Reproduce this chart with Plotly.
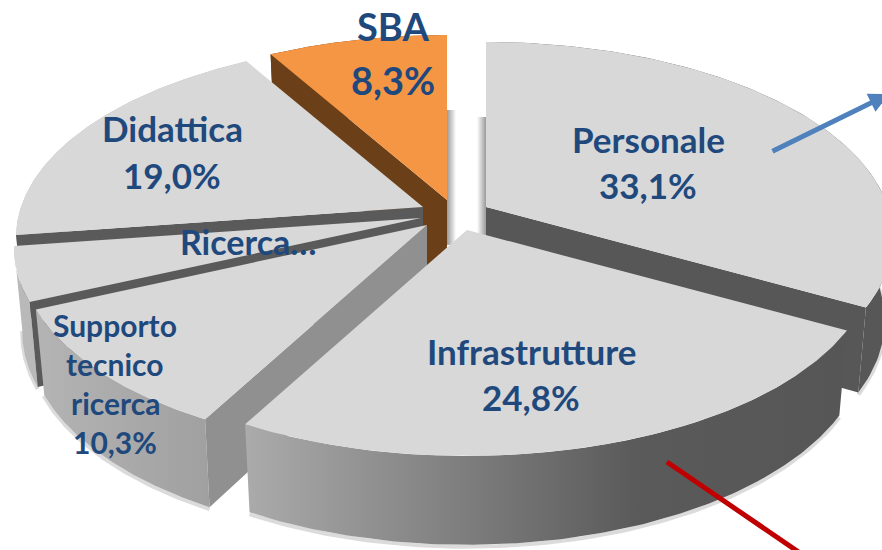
import numpy as np
import plotly.graph_objects as go

categories = ["Personale", "Infrastrutture", "Supporto tecnico ricerca", "Ricerca", "Didattica", "SBA"]
shares = [33.1, 24.8, 10.3, 4.5, 19.0, 8.3]
label_lines = [["Personale", "33,1%"], ["Infrastrutture", "24,8%"],
               ["Supporto", "tecnico", "ricerca", "10,3%"], ["Ricerca…"],
               ["Didattica", "19,0%"], ["SBA", "8,3%"]]

# layout of the exploded 3D pie (pixel-like axis units)
apex = {"Personale": (486, 207), "Infrastrutture": (467, 230), "Supporto tecnico ricerca": (427, 225),
        "Ricerca": (421, 218), "Didattica": (423, 207), "SBA": (447, 200)}
RX, RY, PERSP = 402.0, 190.7, 0.156
DEPTH, DEPTH_Y, SHRINK = 82.0, 0.05, 0.98
draw_order = ["SBA", "Personale", "Didattica", "Ricerca", "Supporto tecnico ricerca", "Infrastrutture"]
# which radial edge shows its wall: "start", "end" or None
visible_face = {"SBA": "start", "Personale": "end", "Didattica": "start", "Ricerca": "start",
                "Supporto tecnico ricerca": "start", "Infrastrutture": None}
styles = {
    "Personale": dict(top="#D8D8D8", side="#575757", face="#575757"),
    "Infrastrutture": dict(top="#D8D8D8", grad=[[0, "#ABABAB"], [0.65, "#5A5A5A"], [1, "#565656"]], face=None),
    "Supporto tecnico ricerca": dict(top="#D8D8D8", grad=[[0, "#B4B4B4"], [1, "#A0A0A0"]], face="#909090"),
    "Ricerca": dict(top="#D8D8D8", side="#B9B9B9", face="#5A5A5A"),
    "Didattica": dict(top="#D8D8D8", side="#BDBDBD", face="#5A5A5A"),
    "SBA": dict(top="#F59645", side="#6B3F17", face="#6B3F17"),
}
# x, first y, line step, font size
label_pos = {"Personale": (648, 139, 46, 35), "Infrastrutture": (531, 351, 46, 35),
             "Supporto tecnico ricerca": (115, 325, 39, 30), "Ricerca": (248, 241, 0, 34),
             "Didattica": (172, 128, 47, 35), "SBA": (393, 26, 54, 38)}
TEXT = "#1F497D"
FONT = "Lato"

cum = np.cumsum([0] + shares) / sum(shares) * 2 * np.pi
ranges = {c: (cum[i], cum[i + 1]) for i, c in enumerate(categories)}


def rim(th):
    c = -np.cos(th)
    den = 1 - PERSP * c
    return RX * np.sin(th) / den, RY * c / den


def top_pt(name, th):
    X, Y = rim(th)
    ax, ay = apex[name]
    return ax + X, ay + Y


def bot_pt(name, th):
    X, Y = rim(th)
    ax, ay = apex[name]
    return ax + X * SHRINK, ay + Y * SHRINK + DEPTH + DEPTH_Y * Y


def poly(xs, ys, color=None, grad=None, name=""):
    kw = dict(x=list(xs), y=list(ys), mode="lines", fill="toself", line=dict(width=0),
              hoverinfo="skip", showlegend=False, name=name)
    if grad is not None:
        kw["fillgradient"] = dict(type="horizontal", colorscale=grad)
    else:
        kw["fillcolor"] = color
    return go.Scatter(**kw)


fig = go.Figure()

# faint shadow strips beside the central gap
sx = apex["SBA"][0]
fig.add_trace(poly([sx, sx + 9, sx + 9, sx], [110, 110, 245, 245],
                   grad=[[0, "#9A9A9A"], [1, "#FFFFFF"]], name="shadow"))
sx = apex["Personale"][0]
fig.add_trace(poly([sx - 9, sx, sx, sx - 9], [117, 117, 235, 235],
                   grad=[[0, "#FFFFFF"], [1, "#9A9A9A"]], name="shadow"))

for name in draw_order:
    a, b = ranges[name]
    st = styles[name]
    th = np.linspace(a, b, 120)
    tx, ty = top_pt(name, th)
    bx, by = bot_pt(name, th)
    ax, ay = apex[name]
    # soft shadow under the rim
    fig.add_trace(go.Scatter(x=bx, y=by + 2, mode="lines", hoverinfo="skip", showlegend=False,
                             line=dict(color="rgba(110,110,110,0.25)", width=4)))
    # outer wall
    fig.add_trace(poly(np.r_[tx, bx[::-1]], np.r_[ty, by[::-1]], color=st.get("side"), grad=st.get("grad"), name=name))
    # visible radial face
    if visible_face[name]:
        t = a if visible_face[name] == "start" else b
        px, py = top_pt(name, np.array([t]))
        qx, qy = bot_pt(name, np.array([t]))
        fig.add_trace(poly([ax, px[0], qx[0], ax], [ay, py[0], qy[0], ay + DEPTH], color=st["face"], name=name))
    # top face
    fig.add_trace(poly(np.r_[ax, tx, ax], np.r_[ay, ty, ay], color=st["top"], name=name))

# arrows
fig.add_trace(go.Scatter(x=[667, 800], y=[462, 553], mode="lines", hoverinfo="skip", showlegend=False,
                         line=dict(color="#C00000", width=5)))
fig.add_annotation(x=889, y=94, ax=771, ay=152, xref="x", yref="y", axref="x", ayref="y", text="",
                   showarrow=True, arrowhead=2, arrowsize=0.8, arrowwidth=5, arrowcolor="#4F81BD", standoff=0)

for name, lines in zip(categories, label_lines):
    x, y0, step, size = label_pos[name]
    for i, t in enumerate(lines):
        fig.add_annotation(x=x, y=y0 + i * step, xref="x", yref="y", text=t, showarrow=False,
                           font=dict(family=FONT, size=size, color=TEXT, weight="bold"))

fig.update_xaxes(range=[0, 882], visible=False, fixedrange=True)
fig.update_yaxes(range=[550, 0], visible=False, fixedrange=True)
fig.update_layout(width=882, height=550, margin=dict(l=0, r=0, t=0, b=0),
                  paper_bgcolor="white", plot_bgcolor="white", showlegend=False)
fig.write_html("out.html", config={"displayModeBar": False},
               post_script="document.body.style.margin='0';")
